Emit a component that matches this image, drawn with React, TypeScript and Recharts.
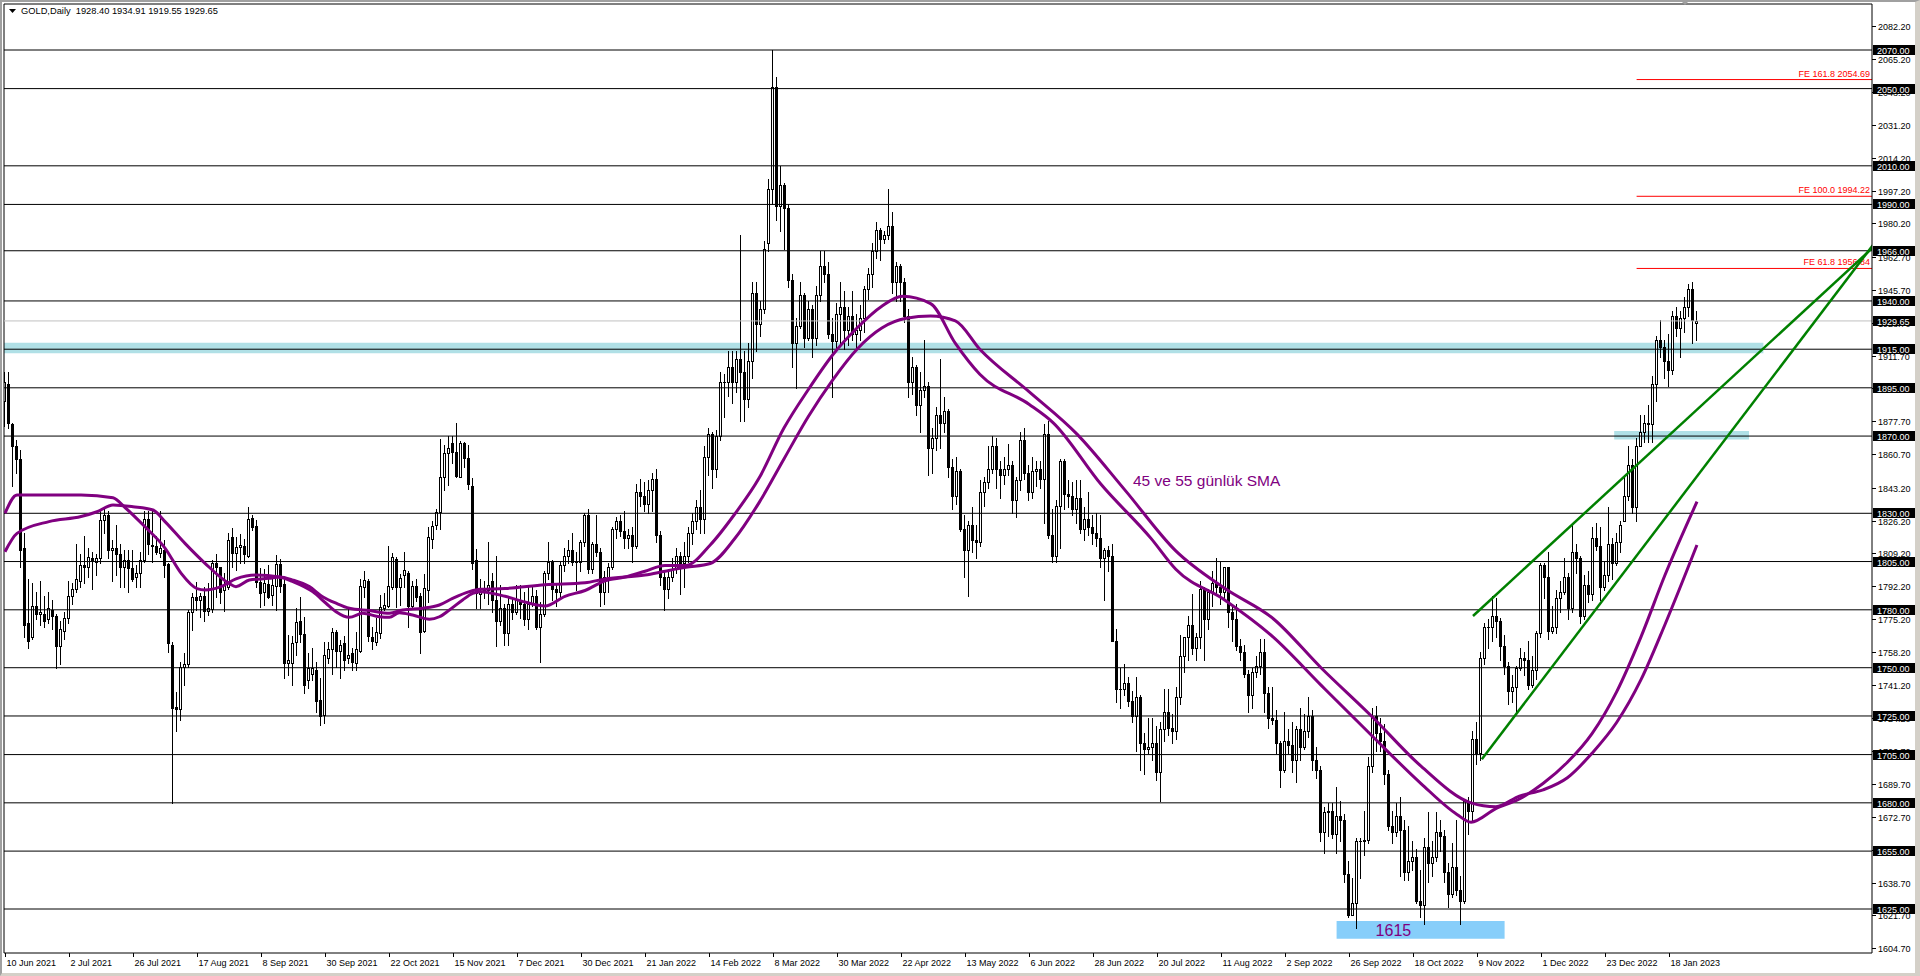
import React from 'react';
import { ComposedChart, Bar, Line, XAxis, YAxis, ReferenceLine, ReferenceArea, ReferenceDot } from 'recharts';

const FONT = '"Liberation Sans", Arial, sans-serif';

// Daily candles [open, high, low, close], one array per period
const BARS_JUN_AUG_2021 = [
  [1888,1903,1875,1898],[1897,1903,1874,1877],[1876,1877,1844,1865],[1865,1868,1851,1858],[1858,1863,1802,1811],
  [1812,1820,1766,1772],[1773,1796,1760,1764],[1766,1794,1765,1782],[1782,1789,1775,1778],[1778,1795,1772,1779],
  [1778,1787,1771,1774],[1775,1789,1773,1781],[1780,1785,1770,1777],[1777,1778,1750,1761],[1761,1774,1752,1770],
  [1769,1779,1765,1776],[1776,1795,1773,1787],[1787,1794,1783,1791],[1791,1814,1789,1796],[1795,1809,1792,1803],
  [1803,1818,1794,1802],[1802,1812,1797,1807.5],[1806.6,1810,1791,1806],[1805,1809,1798,1807],[1807,1831,1804,1826.5],
  [1826.5,1832,1820,1829],[1829,1831,1807,1811],[1811,1816,1795,1812],[1812,1824,1798,1809],[1809,1814,1792,1802],
  [1802,1811,1792,1806],[1806,1811,1789,1801.5],[1801.5,1811,1795,1796],[1797,1803,1792,1799],[1799,1810,1792,1806],
  [1806,1831,1805,1827],[1827,1831,1809,1814],[1813,1831,1805,1813.5],[1813,1818,1809,1810],[1809.5,1831,1807.5,1812],
  [1811,1816,1797,1803],[1803.5,1804,1758,1763],[1762,1763.5,1680,1729],[1729.5,1737.5,1717,1728.5],[1728.5,1753,1723,1750.5],
  [1750.3,1757.4,1741,1752],[1752,1780,1750.5,1779],[1779,1788.5,1769.5,1786.5],[1786.5,1794.6,1780,1785],[1785,1788.5,1776.4,1787.2],
  [1787,1792,1774,1779.5],[1779.5,1793.7,1777.3,1781],[1780.3,1805.8,1779,1804.4],[1804.4,1809,1786.8,1802.3],[1802,1802.3,1783.3,1789.4],
  [1790.3,1799,1779.5,1792.8],[1792,1820,1791,1816.2],[1817.5,1822.2,1802.3,1809.3],[1809.3,1817.9,1800.6,1812.7],
];
const BARS_SEP_NOV_2021 = [
  [1812.7,1819.3,1804,1813.5],[1813,1816.5,1804,1809],[1808,1833.4,1807.5,1827],[1827.4,1829,1821.3,1822.7],[1823.4,1826.5,1791.6,1794.6],
  [1794.6,1801.5,1781.6,1788.5],[1789,1801,1782.5,1793.7],[1793.4,1803.2,1785.9,1786.8],[1787.7,1797.2,1782.5,1792.8],[1792.3,1808.4,1780,1803.7],
  [1803.7,1806.1,1789.4,1792.3],[1793.4,1797.2,1744.5,1752.6],[1752.6,1767,1746.2,1754],[1752.6,1766.4,1741,1763],[1763.5,1780.8,1756.6,1773.9],
  [1774.4,1786.8,1763.5,1767.4],[1767.4,1776.4,1736.7,1741],[1743.6,1757.4,1739.3,1749.7],[1747,1760,1743.6,1749.7],[1748.8,1753.1,1727.2,1732.9],
  [1733.3,1744.5,1720.3,1725],[1725.5,1763.5,1721.2,1756.6],[1754.8,1763.5,1752.3,1759.5],[1759.5,1770.4,1747,1768.7],[1768.7,1769.5,1750.5,1758.8],
  [1758.8,1764.4,1744.5,1761.7],[1762.6,1766.4,1748.8,1754],[1754.8,1780.8,1752.3,1756.6],[1757.4,1760,1748.8,1753.1],[1752.6,1768.7,1748.8,1759.5],
  [1758.8,1795.8,1758.3,1792.3],[1791.6,1800.3,1786.8,1795.4],[1795.1,1795.8,1764,1766.4],[1766,1771.3,1759.5,1764],[1763.5,1775.6,1761.7,1768.7],
  [1768.2,1787.7,1765.2,1781.6],[1780.8,1788.5,1780,1782.5],[1781.9,1813,1781.6,1792.3],[1791.6,1809.6,1791,1807.2],[1806.1,1807.2,1781.6,1791.6],
  [1792,1798.5,1782.5,1796.3],[1798,1810,1792,1800.6],[1798.9,1800.3,1770.9,1782],[1782,1795,1781.3,1792.3],[1792.3,1795.8,1784.7,1786.8],
  [1787.2,1788.5,1757.8,1768.7],[1769.2,1798.5,1768.7,1791.1],[1790.3,1822.7,1784.2,1817.5],[1816.5,1826.1,1811.8,1823.4],[1823.9,1832,1821.7,1830.8],
  [1830.8,1868.3,1821.7,1849],[1848.6,1865.4,1842,1861.1],[1861.1,1870,1844.6,1863.6],[1866.2,1870,1855.9,1861.9],[1861.9,1876.6,1848.9,1849.3],
  [1849,1867.6,1848.6,1866.6],[1866.2,1867.1,1853.8,1858.5],[1858.5,1865.4,1842.4,1845.2],[1844.1,1848.1,1801,1804],[1805.8,1811.3,1780.8,1788.5],
];
const BARS_NOV_FEB_2022 = [
  [1788,1796,1781,1789],[1789,1795,1786,1790],[1790,1815,1783,1793],[1795,1799,1779,1785],[1785,1808,1761,1774],
  [1774,1793,1772,1781],[1781,1783,1762,1768],[1768,1787,1762,1783],[1783,1786,1775,1779],[1779,1793,1778,1785],
  [1785,1793,1776,1783],[1783,1789,1772,1775],[1775,1792,1770,1783],[1783,1792,1782,1787],[1787,1790,1770,1771],
  [1771,1784,1753,1778],[1778,1800,1777,1799],[1799,1815,1796,1805],[1805,1806,1785,1791],[1791,1794,1782,1789],
  [1789,1805,1786,1803],[1803,1812,1800,1808],[1808,1816,1804,1811],[1811,1820,1803,1805],[1805,1810,1790,1805],
  [1805,1816,1800,1815],[1815,1830,1813,1829],[1829,1832,1799,1801],[1801,1815,1799,1814],[1814,1829,1808,1810],
  [1810,1812,1782,1789],[1789,1800,1783,1797],[1797,1804,1789,1802],[1802,1823,1801,1822],[1822,1828,1817,1826],
  [1826,1829,1818,1821],[1821,1831,1812,1817],[1817,1822,1812,1819],[1819,1823,1805,1813],[1813,1845,1812,1841],
  [1841,1848,1834,1839],[1839,1846,1831,1835],[1835,1847,1830,1842],[1842,1851,1831,1848],[1848,1853,1815,1819],
  [1819,1821,1793,1797],[1797,1800,1780,1791],[1791,1801,1786,1797],[1797,1807,1795,1801],[1801,1812,1799,1808],
  [1808,1810,1788,1804],[1804,1815,1792,1808],[1808,1823,1805,1820],[1820,1830,1814,1826],[1826,1837,1822,1833],
  [1833,1842,1820,1827],[1827,1865,1820,1859],[1859,1874,1850,1871],[1871,1872,1843,1853],[1853,1873,1849,1870],
  [1870,1903,1868,1898],[1898,1902,1880,1898],[1898,1914,1891,1906],[1906,1914,1887,1898],[1898,1914,1893,1910],
  [1910,1974,1878,1903],[1903,1914,1878,1889],[1889,1918,1885,1909],
];
const BARS_MAR_MAY_2022 = [
  [1909,1950,1900,1944],[1944,1950,1914,1928],[1928,1940,1922,1936],[1936,1971,1934,1967],[1970,2003,1966,1998],
  [1998,2070,1990,2051],[2051,2056,1982,1989],[1989,2010,1976,2000],[2000,2001,1967,1988],[1988,1990,1947,1951],
  [1951,1954,1906,1918],[1918,1931,1895,1927],[1927,1950,1926,1943],[1943,1944,1916,1921],[1921,1940,1920,1936],
  [1936,1938,1911,1921],[1921,1948,1917,1943],[1943,1966,1940,1958],[1958,1966,1950,1954],[1954,1960,1921,1923],
  [1923,1931,1890,1919],[1919,1939,1915,1933],[1933,1950,1917,1937],[1937,1945,1915,1925],[1925,1937,1917,1932],
  [1932,1945,1920,1923],[1923,1933,1915,1925],[1925,1938,1920,1931],[1931,1948,1924,1946],[1946,1957,1941,1954],
  [1954,1970,1947,1966],[1966,1981,1962,1977],[1977,1978,1961,1972],[1972,1976,1970,1974],[1974,1998,1972,1979],
  [1979,1986,1944,1950],[1950,1960,1940,1958],[1958,1959,1940,1950],[1950,1952,1929,1932],[1932,1936,1890,1898],
  [1898,1911,1892,1906],[1906,1907,1881,1886],[1886,1903,1872,1894],[1894,1920,1890,1896],[1896,1898,1850,1864],
  [1864,1874,1851,1869],[1869,1885,1863,1881],[1881,1910,1864,1877],[1877,1890,1872,1883],[1883,1884,1849,1854],
  [1854,1858,1832,1839],[1839,1859,1835,1852],[1852,1853,1821,1822],[1822,1829,1797,1811],[1811,1826,1787,1824],
  [1824,1833,1810,1816],[1816,1824,1807,1815],[1815,1847,1813,1841],[1841,1849,1834,1846],[1846,1865,1843,1853],
  [1853,1870,1851,1865],[1865,1869,1843,1853],[1853,1857,1838,1850],[1850,1859,1845,1853],[1853,1866,1850,1855],
  [1855,1857,1830,1837],
];
const BARS_JUN_AUG_2022 = [
  [1837,1849,1828,1847],[1847,1872,1842,1868],[1868,1874,1848,1851],[1851,1855,1837,1841],[1841,1859,1838,1852],
  [1852,1857,1844,1853],[1853,1857,1843,1848],[1848,1876,1825,1871],[1871,1878,1817,1819],[1819,1832,1805,1808],
  [1808,1837,1805,1834],[1834,1858,1812,1857],[1857,1858,1832,1840],[1840,1847,1833,1839],[1839,1846,1829,1832],
  [1832,1847,1825,1838],[1838,1847,1820,1822],[1822,1833,1816,1827],[1827,1841,1819,1823],[1823,1829,1814,1820],
  [1820,1830,1813,1817],[1817,1829,1802,1807],[1807,1812,1785,1811],[1811,1813,1800,1808],[1808,1814,1764,1764],
  [1764,1770,1732,1739],[1739,1750,1729,1739],[1739,1752,1736,1742],[1742,1745,1730,1733],[1733,1738,1722,1725],
  [1725,1745,1707,1735],[1735,1736,1697,1711],[1711,1716,1695,1708],[1708,1724,1706,1709],[1709,1724,1702,1711],
  [1711,1720,1692,1696],[1696,1722,1681,1718],[1718,1739,1712,1727],[1727,1739,1715,1719],[1719,1726,1711,1717],
  [1717,1740,1713,1735],[1735,1767,1731,1756],[1756,1766,1748,1766],[1766,1777,1754,1772],[1772,1788,1757,1760],
  [1760,1768,1754,1766],[1766,1795,1760,1791],[1791,1792,1754,1775],[1775,1791,1770,1789],[1789,1800,1782,1794],
  [1794,1807,1788,1792],[1792,1805,1783,1789],[1789,1802,1786,1802],[1802,1802,1771,1779],[1779,1782,1764,1775],
  [1775,1783,1759,1761],[1761,1765,1754,1758],[1758,1762,1745,1747],[1747,1749,1727,1736],[1736,1750,1729,1748],
  [1748,1756,1745,1751],[1751,1765,1747,1758],[1758,1765,1727,1737],[1737,1740,1719,1724],[1724,1740,1721,1723],
  [1723,1728,1706,1711],
];
const BARS_SEP_NOV_2022 = [
  [1711,1712,1688,1697],[1697,1727,1696,1712],[1712,1718,1706,1710],[1710,1722,1696,1702],[1702,1720,1691,1718],
  [1718,1729,1702,1709],[1709,1726,1708,1717],[1717,1735,1714,1725],[1725,1728,1697,1702],[1702,1709,1693,1697],
  [1697,1699,1660,1665],[1665,1678,1654,1675],[1675,1680,1663,1676],[1676,1680,1662,1664],[1664,1688,1654,1673],
  [1673,1681,1660,1671],[1671,1674,1639,1643],[1643,1650,1621,1622],[1622,1641,1622,1628],[1628,1662,1615,1660],
  [1660,1662,1641,1660],[1660,1676,1653,1661],[1661,1704,1659,1699],[1699,1729,1696,1725],[1725,1730,1707,1716],
  [1716,1724,1707,1712],[1712,1721,1690,1695],[1695,1697,1666,1668],[1668,1676,1659,1665],[1665,1680,1663,1673],
  [1673,1683,1642,1666],[1666,1671,1640,1644],[1644,1668,1640,1650],[1650,1660,1645,1652],[1652,1656,1628,1629],
  [1629,1645,1621,1627],[1627,1662,1617,1657],[1657,1675,1639,1649],[1649,1660,1642,1652],[1652,1675,1650,1665],
  [1665,1671,1655,1663],[1663,1666,1639,1644],[1644,1649,1626,1633],[1633,1659,1631,1647],[1647,1671,1632,1635],
  [1635,1642,1617,1629],[1629,1682,1628,1681],[1681,1683,1664,1676],[1676,1717,1671,1713],[1713,1722,1700,1706],
  [1706,1758,1702,1755],[1755,1773,1752,1771],[1771,1775,1760,1771],[1771,1787,1764,1777],[1777,1786,1766,1774],
  [1774,1776,1754,1761],[1761,1767,1747,1751],[1751,1753,1731,1738],[1738,1746,1732,1740],[1740,1751,1727,1750],
  [1750,1760,1749,1755],[1755,1758,1746,1754],[1754,1764,1739,1741],[1741,1756,1740,1749],[1749,1769,1744,1768],
];
const BARS_DEC_JAN_2023 = [
  [1768,1804,1766,1803],[1803,1804,1786,1797],[1797,1810,1765,1769],[1769,1782,1768,1771],[1771,1790,1768,1786],
  [1786,1795,1779,1789],[1789,1807,1788,1797],[1797,1799,1775,1781],[1781,1824,1779,1810],[1810,1814,1799,1807],
  [1807,1808,1773,1777],[1777,1798,1775,1793],[1793,1800,1784,1788],[1788,1823,1785,1817],[1817,1825,1811,1813],
  [1813,1823,1785,1792],[1792,1805,1790,1798],[1798,1833,1795,1814],[1814,1817,1796,1804],[1804,1820,1803,1815],
  [1815,1826,1810,1824],[1826,1850,1826,1839],[1839,1865,1837,1855],[1855,1858,1830,1833],[1833,1869,1826,1865],
  [1865,1881,1865,1872],[1872,1881,1867,1877],[1877,1886,1867,1876],[1876,1901,1867,1897],[1897,1922,1888,1920],
  [1920,1930,1911,1916],[1916,1920,1900,1909],[1909,1923,1896,1904],[1904,1935,1902,1932],[1932,1937,1922,1926],
  [1926,1935,1911,1931],[1931,1942,1924,1937],[1937,1949,1932,1946],[1946,1950,1918,1930],[1928.4,1934.91,1919.55,1929.65],
];

const DATE_LABELS = [
  '10 Jun 2021','2 Jul 2021','26 Jul 2021','17 Aug 2021','8 Sep 2021','30 Sep 2021','22 Oct 2021','15 Nov 2021','7 Dec 2021',
  '30 Dec 2021','21 Jan 2022','14 Feb 2022','8 Mar 2022','30 Mar 2022','22 Apr 2022','13 May 2022','6 Jun 2022','28 Jun 2022',
  '20 Jul 2022','11 Aug 2022','2 Sep 2022','26 Sep 2022','18 Oct 2022','9 Nov 2022','1 Dec 2022','23 Dec 2022','18 Jan 2023',
];
const DATE_STEP = 16;

const PRICE_TICKS = [2082.2,2065.2,2048.2,2031.2,2014.2,1997.2,1980.2,1962.7,1945.7,1928.7,1911.7,1894.7,1877.7,1860.7,1843.2,1826.2,1809.2,1792.2,1775.2,1758.2,1741.2,1724.2,1706.7,1689.7,1672.7,1655.7,1638.7,1621.7,1604.7];
const LEVELS = [2070,2050,2010,1990,1966,1940,1915,1895,1870,1830,1805,1780,1750,1725,1705,1680,1655,1625];
const LAST_PRICE = 1929.65;
const HEADER_SYMBOL = 'GOLD,Daily';
const HEADER_OHLC = ['1928.40','1934.91','1919.55','1929.65'];

// moving averages: [bar index, price]
const SMA45 = [
  [0,1830],[3,1839.5],[11,1839.5],[19,1839.5],[27,1838],[30,1833],[35,1823],[40,1812],[44,1799],[48,1791],[50,1790.3],[54,1792],
  [57.75,1796],[62.75,1798],[68.6,1797],[72,1794.6],[76.9,1789.4],[80.25,1783.4],[82.75,1779],[86.1,1776.1],[89.4,1778.2],[93.6,1776.4],
  [96.1,1776.1],[98.6,1778.5],[101.9,1777.3],[106.1,1775.1],[108.6,1776.4],[111.1,1779.9],[114.4,1785.1],[116.9,1788.5],[118.75,1789.4],
  [125,1787],[130,1784],[135,1782],[140,1787],[145,1790],[150,1795],[155,1797],[160,1800],[165,1803],[170.2,1803],[176.3,1813.6],
  [182.4,1829.5],[188.6,1848.5],[194.7,1874],[200.8,1894],[206.9,1912],[213,1926],[219.2,1937.3],[224.4,1942.4],[231.4,1938.6],
  [237.6,1918],[243.7,1902],[256,1886.5],[262,1877],[274,1845],[286.5,1817],[292.7,1801],[305,1785],[317,1766],[329,1741],
  [341.6,1715],[354,1690],[363,1674],[366.5,1670],[372.7,1677],[378.6,1682],[384.5,1690],[390.6,1701],[396.8,1716],[402.9,1737.5],
  [409,1766],[415,1798],[423,1836],
];
const SMA55 = [
  [0,1810.1],[3,1819.6],[11,1825.7],[19,1828.3],[23,1830.8],[27,1834.3],[32,1833.4],[37,1831.7],[40,1825.7],[45,1814.4],[50,1804.1],
  [56,1793.7],[57.75,1792],[61.1,1795.4],[66.1,1796.3],[68.6,1797],[72,1795.4],[76.1,1792],[79.4,1786.8],[82.75,1783.4],[86.1,1780.8],
  [91.1,1779.6],[96.1,1778.2],[99.4,1779.9],[104.4,1780.8],[108.6,1782.5],[111.9,1785.9],[116.1,1789.4],[118.75,1790.6],
  [125,1791],[135,1793],[145,1794],[150,1796],[160,1798],[165,1800],[170.2,1802],[176.3,1804],[182.4,1816.8],[188.6,1835.8],
  [194.7,1858],[200.8,1880],[206.9,1899],[213,1915],[219.2,1926],[225.3,1931],[231.4,1932.2],[237.6,1929.7],[243.7,1915],[256,1893],
  [268,1871],[280,1842],[292.7,1810.5],[305,1791],[317,1775.5],[329,1750],[341.6,1725],[354,1699],[366.5,1680],[372.7,1678],
  [378.6,1683.5],[384.5,1686.7],[390.6,1693],[396.8,1705.8],[402.9,1721.6],[409,1743.8],[415,1772.4],[423,1813.6],
];

const FE_TEXT = ['FE 161.8 2054.69','FE 100.0 1994.22','FE 61.8 1956.84'];
const FE_PRICE = [2054.69,1994.22,1956.84];
const FE_START = 407.9;

const TREND_UPPER = [[367,1776.8],[467,1967.7]];
const TREND_LOWER = [[369.2,1702.6],[467,1969]];

const BAND_1915 = { x1: -0.25, x2: 439.6, y1: 1912.9, y2: 1918.4 };
const BAND_1870 = { x1: 402.3, x2: 436, y1: 1868.2, y2: 1872.6 };
const BOX_1615 = { x1: 332.9, x2: 374.9, y1: 1609.6, y2: 1618.8, text: '1615' };
const SMA_NOTE = { x: 282, y: 1846.7, text: '45 ve 55 günlük SMA' };
const SHIFT_MARK_X = 420;

const X_MIN = -0.25, X_MAX = 466.75;
const Y_MIN = 1602.21, Y_MAX = 2093.83;

const ALL_BARS = [
  ...BARS_JUN_AUG_2021, ...BARS_SEP_NOV_2021, ...BARS_NOV_FEB_2022, ...BARS_MAR_MAY_2022,
  ...BARS_JUN_AUG_2022, ...BARS_SEP_NOV_2022, ...BARS_DEC_JAN_2023,
];
const rows = ALL_BARS.map(([o, h, l, c], i) => ({ x: i, o, h, l, c, range: [l, h] }));
const sma45Rows = SMA45.map(([x, v]) => ({ x, v }));
const sma55Rows = SMA55.map(([x, v]) => ({ x, v }));
const X_TICKS = DATE_LABELS.map((_, k) => k * DATE_STEP);
const Y_TICKS = [...PRICE_TICKS, ...LEVELS, LAST_PRICE];
const boxed = new Set<number>([...LEVELS, LAST_PRICE]);

const PURPLE = '#800080';

function Candle(props: any) {
  const { x, y, width, height, payload } = props;
  if (!payload || x == null || y == null) return null;
  const { o, h, l, c } = payload;
  const top = Math.min(y, y + height);
  const bot = Math.max(y, y + height);
  const span = h - l;
  const toY = (p: number) => (span > 0 ? top + ((h - p) / span) * (bot - top) : top);
  const col = Math.floor(x + width / 2);
  const wx = col + 0.5;
  const yo = toY(o), yc = toY(c);
  const bt = Math.round(Math.min(yo, yc));
  const bb = Math.round(Math.max(yo, yc));
  const bull = c > o;
  return (
    <g shapeRendering="crispEdges">
      <line x1={wx} x2={wx} y1={Math.round(top)} y2={Math.round(bot) + 1} stroke="#000" strokeWidth={1} />
      {bull ? (
        <rect x={col - 0.5} y={bt + 0.5} width={2} height={Math.max(1, bb - bt)} fill="#fff" stroke="#000" strokeWidth={1} />
      ) : (
        <rect x={col - 1} y={bt} width={3} height={Math.max(1, bb - bt + 1)} fill="#000" />
      )}
    </g>
  );
}

function YTick(props: any) {
  const { x, y, payload } = props;
  const v = payload.value as number;
  const yy = Math.round(y);
  const txt = v.toFixed(2);
  if (boxed.has(v)) {
    return (
      <g>
        <rect x={x + 1} y={yy - 5} width={42} height={10} fill="#000" />
        <text x={x + 5} y={yy + 3.5} fill="#fff" fontSize={9} fontFamily={FONT}>{txt}</text>
      </g>
    );
  }
  return (
    <g>
      <line x1={x} x2={x + 4} y1={yy + 0.5} y2={yy + 0.5} stroke="#000" shapeRendering="crispEdges" />
      <text x={x + 6} y={yy + 3.5} fill="#000" fontSize={9} fontFamily={FONT}>{txt}</text>
    </g>
  );
}

function XTick(props: any) {
  const { x, y, payload } = props;
  const k = Math.round(payload.value / DATE_STEP);
  const px = Math.round(x) + 0.5;
  return (
    <g>
      <line x1={px} x2={px} y1={y} y2={y + 4} stroke="#000" shapeRendering="crispEdges" />
      <text x={px + 1} y={y + 13} fill="#000" fontSize={9} fontFamily={FONT}>{DATE_LABELS[k]}</text>
    </g>
  );
}

function FeLabel(text: string) {
  return (p: any) => {
    const vb = p.viewBox || {};
    const xr = (vb.x ?? 0) + (vb.width ?? 0) - 2;
    return (
      <text x={xr} y={(vb.y ?? 0) - 3} textAnchor="end" fill="#ff0000" fontSize={9} fontFamily={FONT}>{text}</text>
    );
  };
}

function ShiftMark(props: any) {
  const { cx, cy } = props;
  if (cx == null || cy == null) return null;
  return <polygon points={`${cx - 5},${cy - 4} ${cx + 5},${cy - 4} ${cx},${cy + 1}`} fill="#a0a0a0" />;
}

export default function App() {
  return (
    <div style={{ position: 'relative', width: 1920, height: 976, background: '#fff', overflow: 'hidden' }}>
      <style>{`body{margin:0;}`}</style>
      <div style={{ position: 'absolute', left: 0, top: 0, width: 1920, height: 976, boxSizing: 'border-box', borderTop: '2px solid #a0a0a0', borderLeft: '2px solid #a0a0a0', borderRight: '5px solid #d4d0c8', borderBottom: '3px solid #d4d0c8' }} />
      <ComposedChart
        width={1920}
        height={976}
        data={rows}
        margin={{ top: 4, right: 0, bottom: 0, left: 4 }}
        style={{ position: 'absolute', left: 0, top: 0 }}
      >
        <XAxis
          dataKey="x"
          type="number"
          domain={[X_MIN, X_MAX]}
          allowDataOverflow
          ticks={X_TICKS}
          interval={0}
          tick={<XTick />}
          tickLine={false}
          tickSize={0}
          tickMargin={0}
          height={23}
          axisLine={{ stroke: '#000', strokeWidth: 1 }}
        />
        <YAxis
          orientation="right"
          type="number"
          domain={[Y_MIN, Y_MAX]}
          allowDataOverflow
          ticks={Y_TICKS}
          interval={0}
          tick={<YTick />}
          tickLine={false}
          tickSize={0}
          tickMargin={0}
          width={48}
          axisLine={{ stroke: '#000', strokeWidth: 1 }}
        />
        <ReferenceLine y={Y_MAX} stroke="#000" />
        <ReferenceLine x={X_MIN} stroke="#000" />
        <ReferenceArea {...BAND_1915} fill="#b0e0e6" fillOpacity={1} stroke="none" ifOverflow="hidden" />
        <ReferenceArea {...BAND_1870} fill="#b0e0e6" fillOpacity={1} stroke="none" ifOverflow="hidden" />
        <ReferenceArea
          x1={BOX_1615.x1} x2={BOX_1615.x2} y1={BOX_1615.y1} y2={BOX_1615.y2}
          fill="#87cefa" fillOpacity={1} stroke="none"
          label={(p: any) => {
            const vb = p.viewBox || {};
            return (
              <text x={(vb.x ?? 0) + 39} y={(vb.y ?? 0) + (vb.height ?? 0) - 3} fill={PURPLE} fontSize={16} fontFamily={FONT}>{BOX_1615.text}</text>
            );
          }}
        />
        {LEVELS.map((v) => (
          <ReferenceLine key={v} y={v} stroke="#000" strokeWidth={1} />
        ))}
        <ReferenceLine y={LAST_PRICE} stroke="#c0c0c0" strokeWidth={1} />
        {FE_PRICE.map((p, k) => (
          <ReferenceLine
            key={p}
            segment={[{ x: FE_START, y: p }, { x: X_MAX, y: p }]}
            stroke="#ff0000"
            strokeWidth={1}
            ifOverflow="hidden"
            label={FeLabel(FE_TEXT[k])}
          />
        ))}
        <Bar dataKey="range" barSize={3} shape={<Candle />} isAnimationActive={false} />
        <Line data={sma55Rows} dataKey="v" type="monotone" stroke={PURPLE} strokeWidth={3} dot={false} isAnimationActive={false} />
        <Line data={sma45Rows} dataKey="v" type="monotone" stroke={PURPLE} strokeWidth={3} dot={false} isAnimationActive={false} />
        <ReferenceLine
          segment={[{ x: TREND_UPPER[0][0], y: TREND_UPPER[0][1] }, { x: TREND_UPPER[1][0], y: TREND_UPPER[1][1] }]}
          stroke="#008000" strokeWidth={2.5} ifOverflow="hidden"
        />
        <ReferenceLine
          segment={[{ x: TREND_LOWER[0][0], y: TREND_LOWER[0][1] }, { x: TREND_LOWER[1][0], y: TREND_LOWER[1][1] }]}
          stroke="#008000" strokeWidth={2.5} ifOverflow="hidden"
        />
        <ReferenceDot
          x={SMA_NOTE.x} y={SMA_NOTE.y} r={0} fill="none" stroke="none"
          label={(p: any) => {
            const vb = p.viewBox || {};
            return (
              <text x={vb.x ?? 0} y={(vb.y ?? 0) + 5} fill={PURPLE} fontSize={15.5} fontFamily={FONT}>{SMA_NOTE.text}</text>
            );
          }}
        />
        <ReferenceDot x={SHIFT_MARK_X} y={Y_MAX} r={0} ifOverflow="visible" shape={<ShiftMark />} />
      </ComposedChart>
      <div style={{ position: 'absolute', left: 9, top: 6, display: 'flex', alignItems: 'center', fontFamily: FONT, fontSize: 9.3, color: '#000', whiteSpace: 'pre' }}>
        <svg width={7} height={5} style={{ marginRight: 5 }}>
          <polygon points="0,0 7,0 3.5,4" fill="#000" />
        </svg>
        <span>{HEADER_SYMBOL + '  ' + HEADER_OHLC.join(' ')}</span>
      </div>
    </div>
  );
}
